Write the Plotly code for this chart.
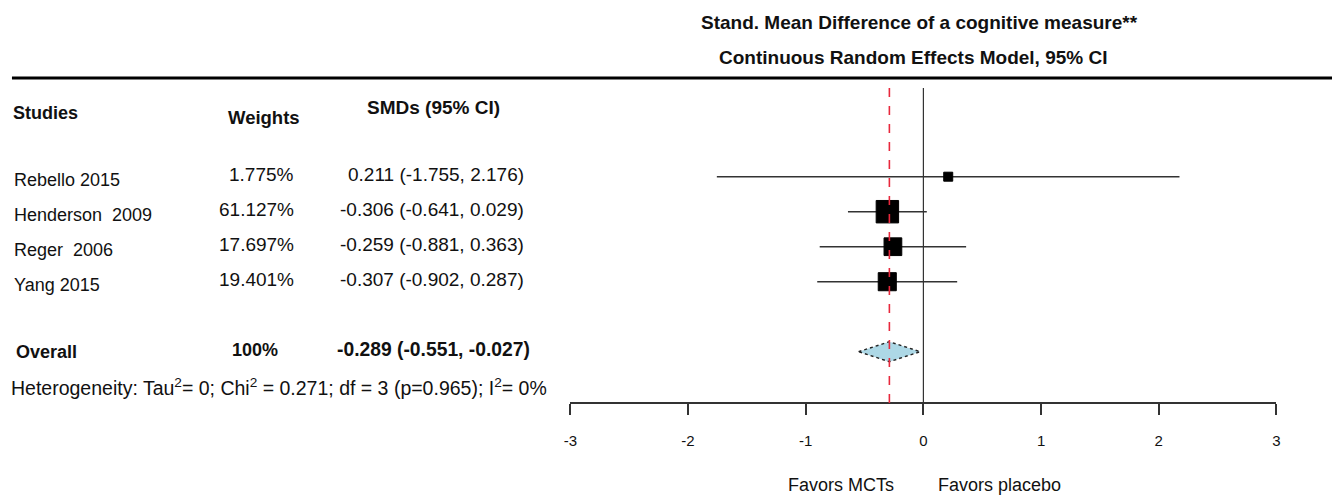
import math
import plotly.graph_objects as go

# ---------------- data ----------------
studies = ["Rebello 2015", "Henderson  2009", "Reger  2006", "Yang 2015"]
weights = [1.775, 61.127, 17.697, 19.401]
smd = [0.211, -0.306, -0.259, -0.307]
ci_low = [-1.755, -0.641, -0.881, -0.902]
ci_high = [2.176, 0.029, 0.363, 0.287]

overall_label = "Overall"
overall_weight = 100
overall_smd = -0.289
overall_low = -0.551
overall_high = -0.027

heterogeneity = "Heterogeneity: Tau<sup>2</sup>= 0; Chi<sup>2</sup> = 0.271; df = 3 (p=0.965); I<sup>2</sup>= 0%"
x_ticks = [-3, -2, -1, 0, 1, 2, 3]
title_lines = ["Stand. Mean Difference of a cognitive measure**",
               "Continuous Random Effects Model, 95% CI"]
headers = ["Studies", "Weights", "SMDs (95% CI)"]
favors = ["Favors MCTs", "Favors placebo"]

# ---------------- layout helpers ----------------
W, H = 1336, 499
ROW0, GAP = 176.7, 35.0
def row_y(i):
    return ROW0 + GAP * i

OVERALL_ROW = 5
HET_ROW = 6
AXIS_Y = 403
FONT = "Liberation Sans, Arial, sans-serif"
TXT = "#111111"
LINE = "#333333"

fig = go.Figure()

# CI lines
for i in range(len(studies)):
    fig.add_trace(go.Scatter(x=[ci_low[i], ci_high[i]], y=[row_y(i), row_y(i)],
                             mode="lines", line=dict(color=LINE, width=1.5),
                             showlegend=False, hoverinfo="skip"))

# squares sized by weight
sizes = [9 + 3.8 * math.log(w / min(weights)) for w in weights]
fig.add_trace(go.Scatter(x=smd, y=[row_y(i) for i in range(len(studies))],
                         mode="markers",
                         marker=dict(symbol="square", size=sizes, color="#000000",
                                     opacity=1, line=dict(width=1, color="#000000")),
                         showlegend=False, text=studies))

# overall diamond
yo = row_y(OVERALL_ROW)
dh = 10
fig.add_trace(go.Scatter(x=[overall_low, overall_smd, overall_high, overall_smd, overall_low],
                         y=[yo, yo - dh, yo, yo + dh, yo],
                         mode="lines", fill="toself", fillcolor="#add8e6",
                         line=dict(color="#222222", width=1.4, dash="dot"),
                         showlegend=False, hoverinfo="skip"))

shapes = []
# header rule
shapes.append(dict(type="line", xref="paper", yref="y", x0=5 / W, x1=1, y0=78, y1=78,
                   line=dict(color="black", width=3)))
# zero line
shapes.append(dict(type="line", xref="x", yref="y", x0=0, x1=0, y0=88, y1=AXIS_Y,
                   line=dict(color=LINE, width=1.2)))
# overall effect dashed line
shapes.append(dict(type="line", xref="x", yref="y", x0=overall_smd, x1=overall_smd,
                   y0=88, y1=AXIS_Y, line=dict(color="#e8283c", width=1.6, dash="dash")))

ann = []
def txt(x, y, s, anchor="left", size=18, bold=False):
    ann.append(dict(x=x / W, y=y, xref="paper", yref="y", text=f"<b>{s}</b>" if bold else s,
                    showarrow=False, xanchor=anchor, yanchor="middle",
                    font=dict(family=FONT, size=size, color=TXT)))

# title
txt(920, 22, title_lines[0], "center", 19, True)
txt(914, 57, title_lines[1], "center", 19, True)
# headers
txt(4, 113, headers[0], "left", 18, True)
txt(259, 117, headers[1], "center", 18.5, True)
txt(430, 107, headers[2], "center", 19, True)
# study rows
for i in range(len(studies)):
    y = row_y(i)
    txt(5, y + 3, studies[i], "left", 18)
    txt(291, y - 2, f"{weights[i]:.3f}%", "right", 19)
    txt(523, y - 2, f"{smd[i]:.3f} ({ci_low[i]:.3f}, {ci_high[i]:.3f})", "right", 19)
# overall
txt(7, yo, overall_label, "left", 18, True)
txt(250, yo - 2, f"{overall_weight}%", "center", 18, True)
txt(529, yo - 2, f"{overall_smd:.3f} ({overall_low:.3f}, {overall_high:.3f})", "right", 19.3, True)
# heterogeneity
txt(2, row_y(HET_ROW), heterogeneity, "left", 19.5)
# favors
txt(785, 485, favors[0], "left", 18)
txt(937, 485, favors[1], "left", 18)

x0_px, x1_px = 568, 1280
fig.update_layout(
    width=W, height=H, margin=dict(l=0, r=0, t=0, b=0),
    paper_bgcolor="white", plot_bgcolor="white",
    shapes=shapes, annotations=ann,
    xaxis=dict(domain=[x0_px / W, x1_px / W], range=[-3, 3], anchor="free",
               position=1 - AXIS_Y / H, showgrid=False, zeroline=False,
               showline=True, linecolor=LINE, linewidth=1.5,
               ticks="outside", ticklen=11, tickwidth=1.5, tickcolor=LINE,
               tickvals=x_ticks, ticktext=[str(t) for t in x_ticks],
               tickfont=dict(family=FONT, size=15, color=TXT),
               ticklabelstandoff=13),
    yaxis=dict(domain=[0, 1], range=[H, 0], visible=False, showgrid=False),
)

fig.write_html("out.html", config={"displayModeBar": False},
               post_script="document.body.style.margin='0';document.body.style.overflow='hidden';")
